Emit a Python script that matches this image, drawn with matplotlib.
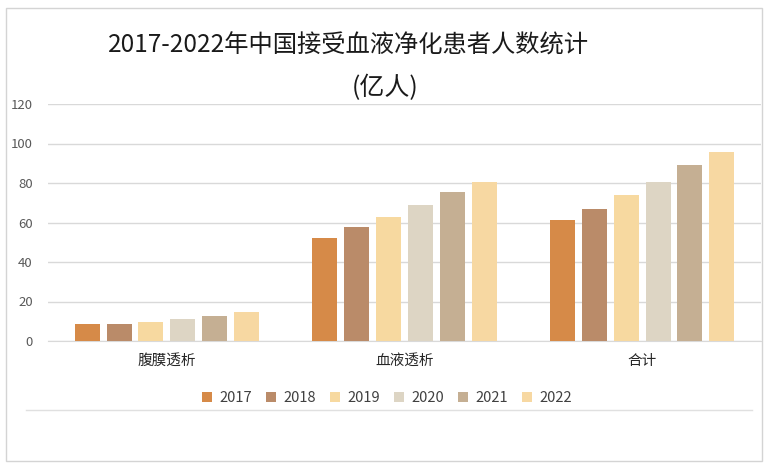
import numpy as np
import matplotlib.pyplot as plt
from matplotlib.patches import Rectangle
from matplotlib.lines import Line2D

plt.rcParams['font.family'] = ['Noto Sans CJK SC', 'DejaVu Sans']

# data (亿人)
categories = ['腹膜透析', '血液透析', '合计']
years = ['2017', '2018', '2019', '2020', '2021', '2022']
values = {
    '2017': [8.5, 52.2, 61.2],
    '2018': [8.5, 57.8, 66.8],
    '2019': [9.8, 62.9, 73.7],
    '2020': [10.9, 69.1, 80.6],
    '2021': [12.9, 75.5, 88.9],
    '2022': [14.8, 80.6, 95.8],
}
colors = ['#D68A48', '#BA8B69', '#F7D9A0', '#DDD5C4', '#C5AF93', '#F7D8A2']

W, H = 771, 470
fig = plt.figure(figsize=(W / 100, H / 100), dpi=100)
ax = fig.add_axes([48 / W, 1 - 341 / H, (761 - 48) / W, (341 - 104) / H])

x = np.arange(len(categories))
step = 0.134
width = 0.105
for i, yr in enumerate(years):
    ax.bar(x + (i - 2.5) * step, values[yr], width, color=colors[i], label=yr, zorder=3)

ax.set_xlim(-0.5, 2.5)
ax.set_ylim(0, 120)
ax.set_yticks(range(0, 121, 20))
ax.set_xticks(x)
ax.set_xticklabels(categories, fontsize=10.5, color='#262626')
ax.tick_params(axis='y', length=0, pad=11, labelsize=9.5, labelcolor='#595959')
ax.tick_params(axis='x', length=0, pad=9)
ax.grid(axis='y', color='#D9D9D9', linewidth=1, zorder=0)
for s in ['top', 'right', 'left']:
    ax.spines[s].set_visible(False)
ax.spines['bottom'].set_color('#D9D9D9')

fig.text(348 / W, 1 - 46 / H, '2017-2022年中国接受血液净化患者人数统计', fontsize=17.5,
         ha='center', va='center', color='#1a1a1a')
fig.text(385 / W, 1 - 88 / H, '(亿人)', fontsize=18, ha='center', va='center', color='#1a1a1a')

fig.legend(loc='center', bbox_to_anchor=(387 / W, 1 - 398 / H), ncol=6, frameon=False,
           fontsize=10.5, labelcolor='#404040', handlelength=0.7, handleheight=0.7,
           handletextpad=0.5, columnspacing=0.95)

# outer frame and separator line
fig.patches.append(Rectangle((6 / W, 1 - 461 / H), (762 - 6) / W, (461 - 8) / H,
                             transform=fig.transFigure, fill=False, edgecolor='#D4D4D4', linewidth=1))
fig.lines.append(Line2D([26 / W, 752 / W], [1 - 410 / H, 1 - 410 / H], transform=fig.transFigure,
                        color='#E0E0E0', linewidth=1))

fig.savefig('out.png', dpi=100)
